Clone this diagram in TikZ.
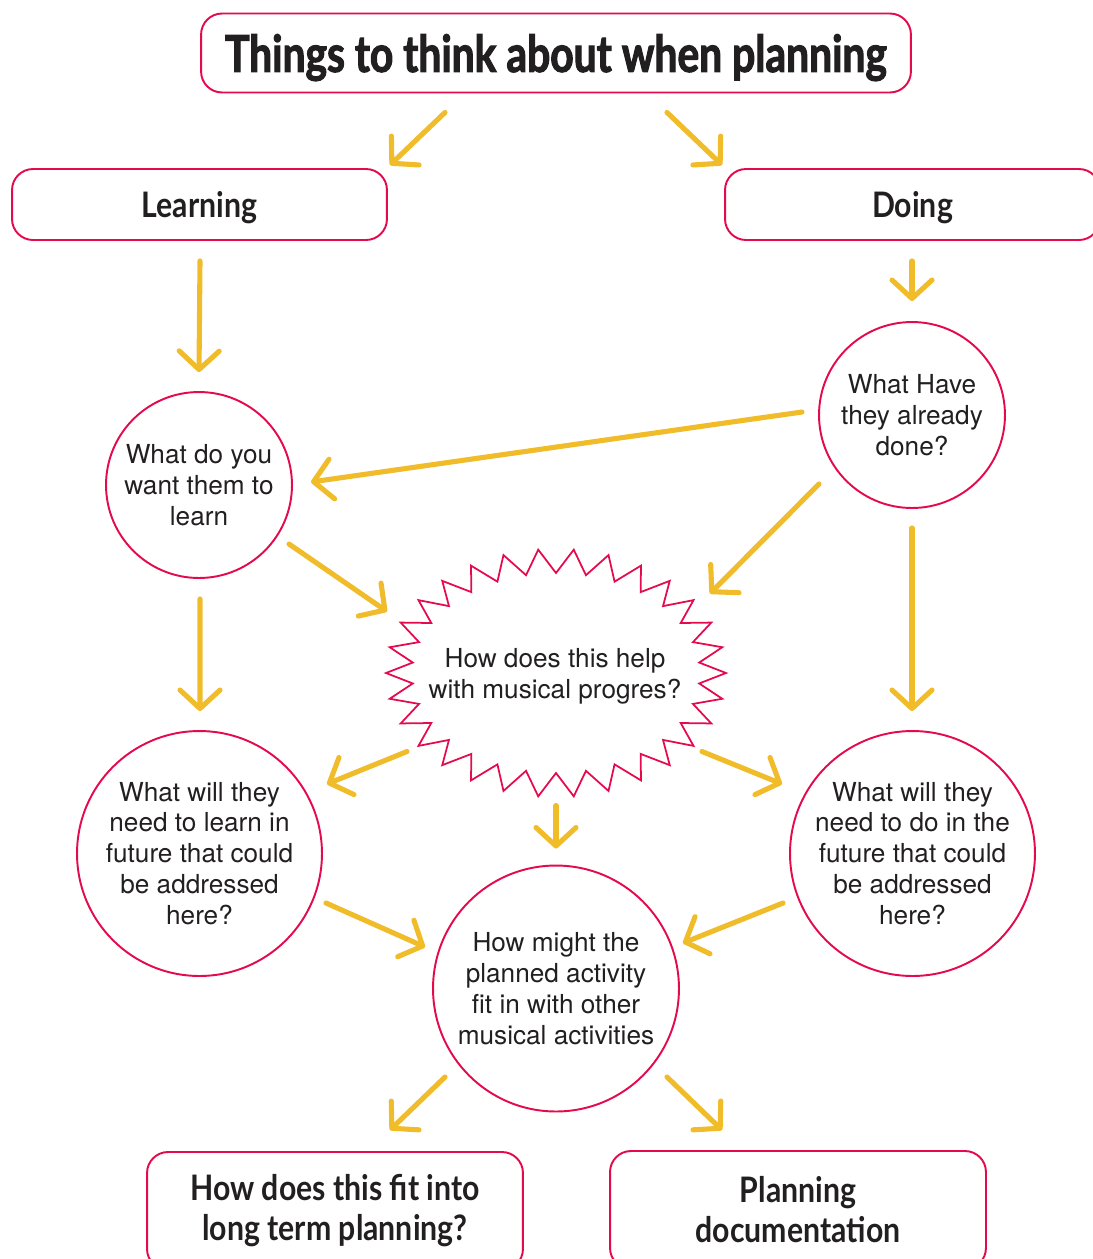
\documentclass[tikz,border=0pt]{standalone}
\usepackage{fontspec}
\setmainfont{TeX Gyre Heros}
\newfontfamily\labfont{Lato}[FakeStretch=0.86]
\newfontfamily\titlefont{Lato}[FakeStretch=0.8,FakeBold=2]
\usetikzlibrary{arrows.meta,calc}
\definecolor{pinkc}{RGB}{228,10,78}
\definecolor{yel}{RGB}{240,188,42}
\definecolor{txt}{RGB}{34,31,32}
\tikzset{
  box/.style={draw=pinkc, line width=1.1pt, rounded corners=0.42cm, align=center, text=txt,
    font=\labfont\bfseries\fontsize{20}{22.7}\selectfont},
  circ/.style={draw=pinkc, line width=1.1pt, circle, align=center, text=txt, inner sep=0pt,
    font=\fontsize{14.9}{17.6}\selectfont},
  arr/.style={draw=yel, line width=2.9pt, line cap=round,
    -{Straight Barb[length=0.37cm,width=0.8cm,round]}}
}
\begin{document}
\begin{tikzpicture}[x=0.02cm,y=-0.02cm]
\useasboundingbox (0,0) rectangle (1093,1259);
% nodes
\node[box, text depth=0pt, minimum width=14.2cm, minimum height=1.58cm, font=\titlefont\bfseries\fontsize{29}{34}\selectfont] (title) at (556,53) {Things to think about when planning};
\node[box, text depth=0pt, minimum width=7.5cm, minimum height=1.42cm] (learning) at (199.5,204.5) {Learning};
\node[box, text depth=0pt, minimum width=7.5cm, minimum height=1.42cm] (doing) at (912.5,204.5) {Doing};
\node[circ, minimum size=3.72cm] (learn) at (199,485) {What do you\\want them to\\learn};
\node[circ, minimum size=3.72cm] (done) at (912,415) {What Have\\they already\\done?};
\node[align=center, text=txt, font=\fontsize{14.9}{17.6}\selectfont] (star) at (555,676.5) {How does this help\\with musical progres?};
\draw[pinkc, line width=1pt, line join=miter]
  (726,673) \foreach \i [evaluate=\i as \rx using {mod(\i,2)==0 ? 170 : 144},
                         evaluate=\i as \ry using {mod(\i,2)==0 ? 124 : 100}] in {1,...,59}
  { -- ({556+\rx*cos(\i*6)},{673+\ry*sin(\i*6)}) } -- cycle;
\node[circ, minimum size=4.9cm] (futl) at (199.5,853.5) {What will they\\need to learn in\\future that could\\be addressed\\here?};
\node[circ, minimum size=4.9cm] (futd) at (912.5,853.5) {What will they\\need to do in the\\future that could\\be addressed\\here?};
\node[circ, minimum size=4.92cm] (fit) at (556,988.5) {How might the\\planned activity\\fit in with other\\musical activities};
\node[box, minimum width=7.52cm, minimum height=2.36cm] (ltp) at (335,1211) {How does this fit into\\long term planning?};
\node[box, minimum width=7.52cm, minimum height=2.36cm] (doc) at (798,1210) {Planning\\documentation};
% connectors
\draw[arr] ([shift={(-111,19)}]title.south) -- ([shift={(190.5,-3)}]learning.north);
\draw[arr] ([shift={(111,19)}]title.south) -- ([shift={(-190.5,-3)}]doing.north);
\draw[arr] ([shift={(0.5,20)}]learning.south) -- ([shift={(0,-19)}]learn.north);
\draw[arr] ([shift={(-0.5,20)}]doing.south) -- ([shift={(0,-20)}]done.north);
\draw[arr] ([shift={(-110,-3)}]done.center) -- ([shift={(112,-3)}]learn.center);
\draw[arr] ([shift={(-93,69)}]done.center) -- ([shift={(155,-83)}]star.center);
\draw[arr] ([shift={(90,59)}]learn.center) -- ([shift={(-168,-65)}]star.center);
\draw[arr] ([shift={(1,20)}]learn.south) -- ([shift={(0.5,-19)}]futl.north);
\draw[arr] ([shift={(0,19)}]done.south) -- ([shift={(-0.5,-19)}]futd.north);
\draw[arr] ([shift={(-148,75)}]star.center) -- ([shift={(127.5,-69.5)}]futl.center);
\draw[arr] ([shift={(147,75)}]star.center) -- ([shift={(-130.5,-69.5)}]futd.center);
\draw[arr] ([shift={(1,129)}]star.center) -- ([shift={(0,-16)}]fit.north);
\draw[arr] ([shift={(126.5,49.5)}]futl.center) -- ([shift={(-131,-41.5)}]fit.center);
\draw[arr] ([shift={(-129.5,49.5)}]futd.center) -- ([shift={(127,-45.5)}]fit.center);
\draw[arr] ([shift={(-111,88.5)}]fit.center) -- ([shift={(55,-21)}]ltp.north);
\draw[arr] ([shift={(111,88.5)}]fit.center) -- ([shift={(-76,-20)}]doc.north);
\end{tikzpicture}
\end{document}
